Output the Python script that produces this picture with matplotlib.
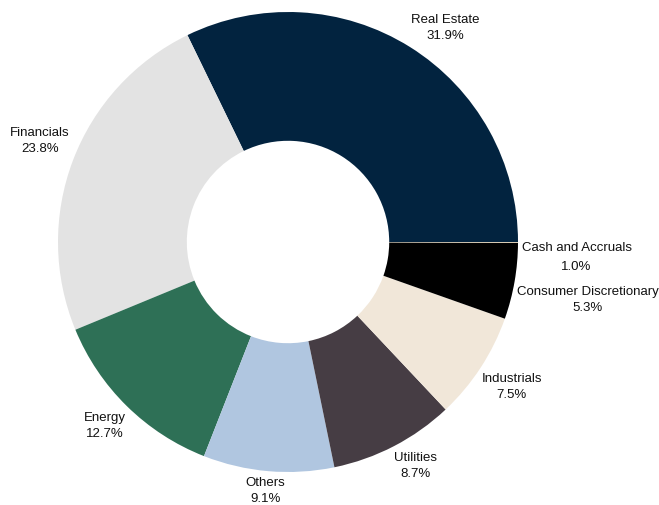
import numpy as np
import matplotlib
matplotlib.use('Agg')
from matplotlib import pyplot as plt

# Sector weights (label text) and the slice sizes as drawn
sectors = ['Real Estate', 'Financials', 'Energy', 'Others', 'Utilities',
           'Industrials', 'Consumer Discretionary', 'Cash and Accruals']
pct_labels = ['31.9%', '23.8%', '12.7%', '9.1%', '8.7%', '7.5%', '5.3%', '1.0%']
slice_values = [31.9, 23.8, 12.7, 9.1, 8.7, 7.5, 5.3, 0.06]
colors = ['#02233f', '#e3e3e3', '#2e7056', '#b0c6e0', '#463d44',
          '#f1e7d9', '#000000', '#d8c9ad']

plt.rcParams['font.family'] = ['Liberation Sans', 'DejaVu Sans']

fig = plt.figure(figsize=(6.59, 5.06), dpi=100)
ax = fig.add_axes([0, 0, 1, 1])

wedges, _ = ax.pie(slice_values, colors=colors, startangle=0, counterclock=True,
                   radius=1.0, wedgeprops=dict(width=0.56, linewidth=0))

# label placement: radius factor, angle tweak (deg), line spacing
label_r = [1.158, 1.166, 1.124, 1.083, 1.116, 1.157, 1.325, 1.256]
label_da = [-4.2, -1.6, -0.5, -0.3, 2.4, 0.3, -0.9, -2.8]
label_ls = [1.45, 1.45, 1.45, 1.45, 1.45, 1.45, 1.45, 1.75]

for w, name, pct, r, da, ls in zip(wedges, sectors, pct_labels,
                                   label_r, label_da, label_ls):
    mid = np.deg2rad((w.theta1 + w.theta2) / 2 + da)
    ax.text(r * np.cos(mid), r * np.sin(mid), f'{name}\n{pct}',
            ha='center', va='center', fontsize=9.5, color='#111111',
            linespacing=ls)

ax.set_xlim(-288 / 230, (659 - 288) / 230)
ax.set_ylim(-263 / 230, 243 / 230)
ax.set_aspect('equal', adjustable='box')
ax.axis('off')

fig.savefig('out.png', dpi=100)
